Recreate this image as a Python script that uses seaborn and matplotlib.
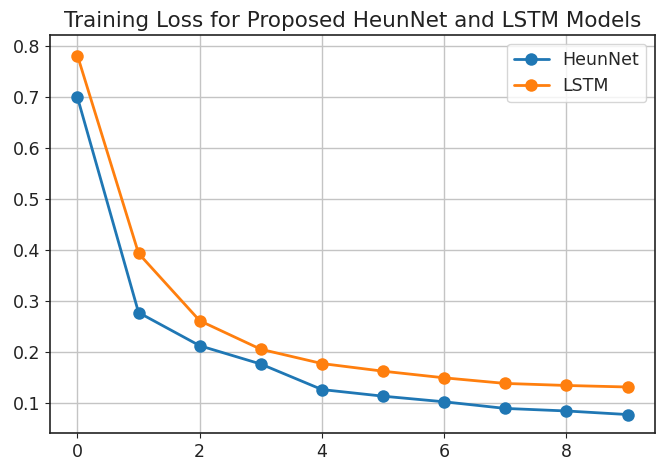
import numpy as np
import pandas as pd
import matplotlib
matplotlib.use("Agg")
import matplotlib.pyplot as plt
import seaborn as sns

# ------------------------------------------
# Data
# ------------------------------------------

epochs = list(range(10))
heunnet_loss = [0.700, 0.278, 0.213, 0.177, 0.127, 0.114, 0.103, 0.090, 0.085, 0.078]
lstm_loss = [0.782, 0.394, 0.262, 0.206, 0.178, 0.163, 0.150, 0.139, 0.135, 0.132]
model_names = ["HeunNet", "LSTM"]

df = pd.DataFrame({
    "epoch": epochs * 2,
    "loss": heunnet_loss + lstm_loss,
    "model": [model_names[0]] * len(epochs) + [model_names[1]] * len(epochs),
})

# ------------------------------------------
# Plot
# ------------------------------------------

sns.set_style("ticks")
plt.rcParams["font.family"] = ["DejaVu Sans"]

fig = plt.figure(figsize=(6.57, 4.68), dpi=100)
ax = fig.add_axes([0.076, 0.075, 0.921, 0.85])

sns.lineplot(
    data=df,
    x="epoch",
    y="loss",
    hue="model",
    palette=["#1f77b4", "#ff7f0e"],
    marker="o",
    markersize=9,
    markeredgewidth=0,
    linewidth=2,
    ax=ax,
)

ax.grid(True, color="#c4c4c4", linewidth=1.0)
ax.set_axisbelow(True)
ax.set_xlim(-0.45, 9.45)
ax.set_ylim(0.042, 0.822)
ax.set_xticks([0, 2, 4, 6, 8])
ax.set_yticks([0.1, 0.2, 0.3, 0.4, 0.5, 0.6, 0.7, 0.8])
ax.tick_params(labelsize=12.5, colors="#222222")
ax.set_xlabel("")
ax.set_ylabel("")
for s in ax.spines.values():
    s.set_visible(True)
    s.set_color("#222222")
    s.set_linewidth(1.2)

ax.set_title("Training Loss for Proposed HeunNet and LSTM Models", fontsize=15.5, color="#222222", pad=6)
ax.legend(loc="upper right", fontsize=12.5, framealpha=0.8, title=None)

fig.savefig("out.png", dpi=100)
